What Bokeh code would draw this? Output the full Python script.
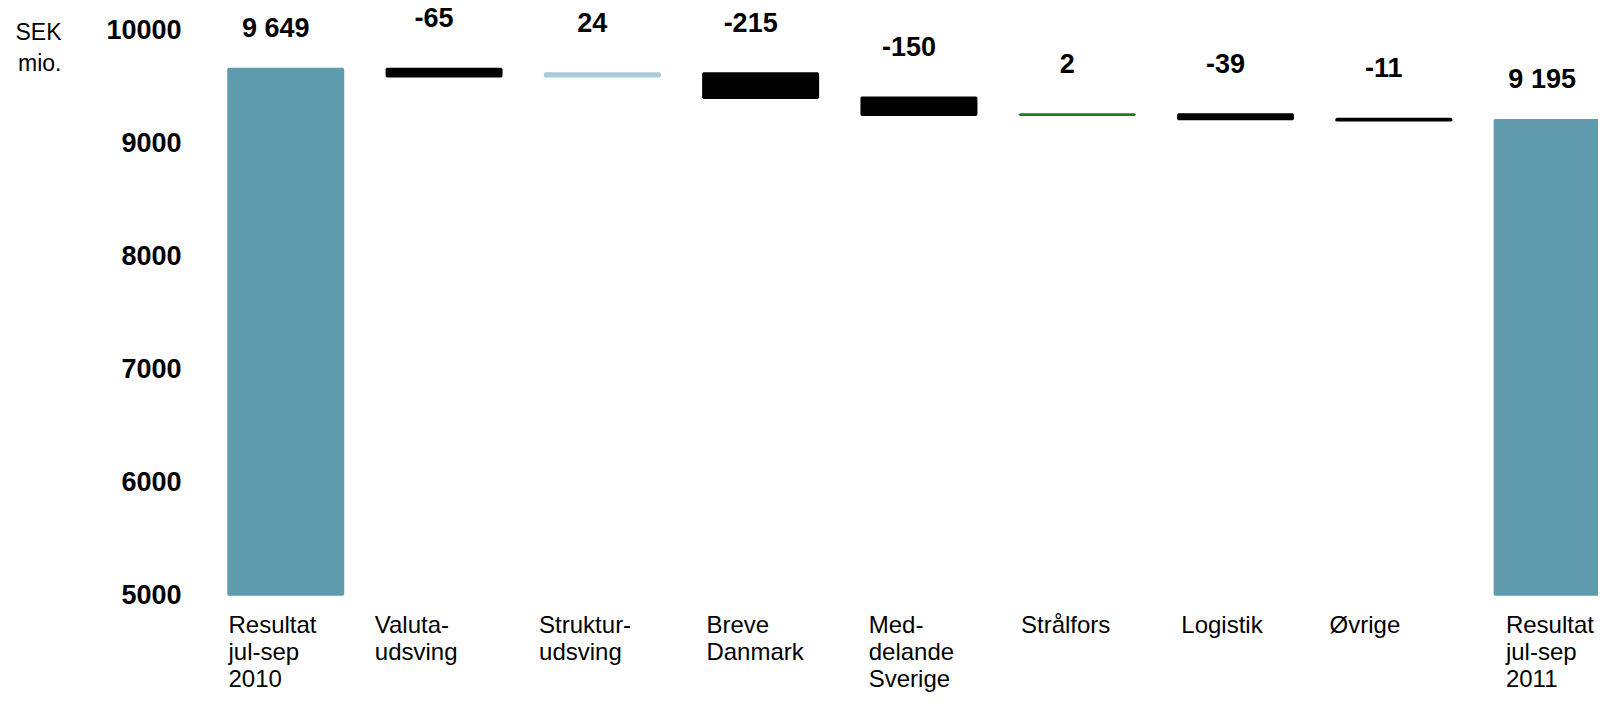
import numpy as np
from bokeh.plotting import figure
from bokeh.models import ColumnDataSource, Range1d, FixedTicker, LinearAxis
from bokeh.core.properties import value
from bokeh.embed import file_html
from bokeh.resources import INLINE

# ---- data ----
categories = ["Resultat\njul-sep\n2010", "Valuta-\nudsving", "Struktur-\nudsving",
              "Breve\nDanmark", "Med-\ndelande\nSverige", "Strålfors", "Logistik",
              "Øvrige", "Resultat\njul-sep\n2011"]
values = [9649, -65, 24, -215, -150, 2, -39, -11, 9195]
is_total = [True, False, False, False, False, False, False, False, True]
y_ticks = [5000, 6000, 7000, 8000, 9000, 10000]
base_value = 5000
unit_label = "SEK\nmio."

# ---- styles ----
TEAL = "#5F9BAD"
bar_colors = [TEAL, "#000000", "#A9CDD4", "#000000", "#000000", "#1E7A1E",
              "#000000", "#000000", TEAL]
cat_label_nudge = [0, -12, -6, 3, 7, 1, 3, -7, 11]   # px, horizontal

# ---- waterfall computation ----
xs = np.arange(len(categories))
bottoms, tops = [], []
running = 0
for v, t in zip(values, is_total):
    if t:
        bottoms.append(base_value)
        tops.append(v)
        running = v
    else:
        start = running
        running = running + v
        bottoms.append(min(start, running))
        tops.append(max(start, running))

labels = [f"{v:,}".replace(",", " ") for v in values]
label_off = [-41 if t else -51 for t in is_total]

BAR_W = 0.7233
src = ColumnDataSource(dict(x=xs, bottom=bottoms, top=tops, color=bar_colors,
                            label=labels, loff=label_off, nudge=cat_label_nudge,
                            cat=categories, xl=xs - BAR_W / 2))

X0 = -0.5006
PX_PER_X = 158.3
PX_PER_Y = 0.11306
LEFT = 206
W, H = 1598, 693
BASE_PX = 594

p = figure(width=W, height=H, output_backend="svg", toolbar_location=None,
           x_range=Range1d(X0, X0 + (W - LEFT) / PX_PER_X),
           y_range=Range1d(base_value - (H - BASE_PX) / PX_PER_Y,
                           base_value + BASE_PX / PX_PER_Y),
           x_axis_location=None, min_border_left=LEFT, min_border_right=0,
           min_border_top=0, min_border_bottom=0)
p.outline_line_color = None
p.xgrid.visible = False
p.ygrid.visible = False

p.vbar(x="x", width=BAR_W, bottom="bottom", top="top", source=src,
       fill_color="color", line_color="color", line_width=2.5)

p.text(x="x", y="top", text="label", source=src, x_offset=-10, y_offset="loff",
       text_align="center", text_baseline="middle",
       text_font=value("Liberation Sans"), text_font_style="bold",
       text_font_size="27px", text_color="#000000")

p.text(x="xl", y=base_value, text="cat", source=src, x_offset="nudge", y_offset=16,
       text_align="left", text_baseline="top", text_line_height=1.0,
       text_font=value("Liberation Sans"), text_font_size="24px",
       text_color="#000000")

ax = p.yaxis[0]
ax.ticker = FixedTicker(ticks=y_ticks)
ax.axis_line_color = None
ax.major_tick_line_color = None
ax.minor_tick_line_color = None
ax.major_tick_out = 0
ax.major_tick_in = 0
ax.major_label_standoff = 25
ax.major_label_text_font = "Liberation Sans"
ax.major_label_text_font_style = "bold"
ax.major_label_text_font_size = "27px"
ax.major_label_text_color = "#000000"

# unit caption ("SEK mio.") as an outer axis label at the top left
unit_y = base_value + (BASE_PX - 47) / PX_PER_Y
unit_ax = LinearAxis(ticker=FixedTicker(ticks=[unit_y]),
                     major_label_overrides={unit_y: unit_label})
unit_ax.axis_line_color = None
unit_ax.major_tick_line_color = None
unit_ax.minor_tick_line_color = None
unit_ax.major_tick_out = 0
unit_ax.major_tick_in = 0
unit_ax.major_label_standoff = 42
unit_ax.major_label_text_font = "Liberation Sans"
unit_ax.major_label_text_font_size = "23px"
unit_ax.major_label_text_color = "#000000"
p.add_layout(unit_ax, "left")

open("out.html", "w").write(file_html(p, INLINE))
